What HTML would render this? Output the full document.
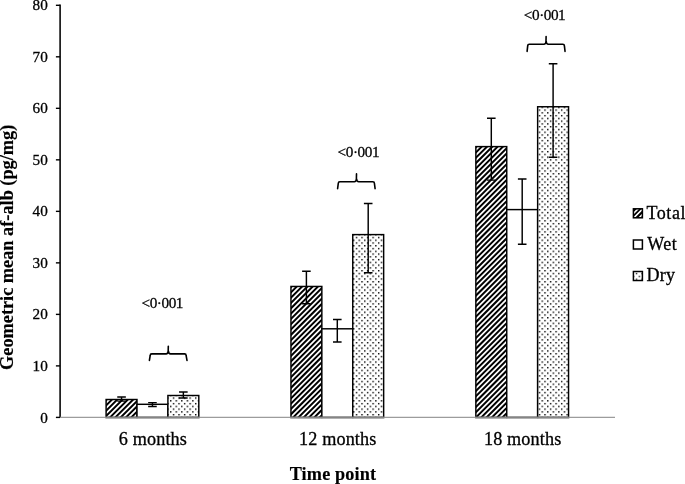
<!DOCTYPE html>
<html><head><meta charset="utf-8"><style>
html,body{margin:0;padding:0;background:#fff;}
body{width:685px;height:484px;overflow:hidden;position:relative;}
svg{position:absolute;left:0;top:0;display:block;will-change:transform;}
text{font-family:"Liberation Serif",serif;fill:#000;stroke:#000;stroke-width:0.3px;}
.b{stroke-width:0.15px;}
.b{font-weight:bold;}
</style></head><body>
<svg width="685" height="484" viewBox="0 0 685 484">
<defs>
<pattern id="dots" patternUnits="userSpaceOnUse" width="5.545" height="5.538" x="544.3" y="109.4">
<rect x="0" y="0" width="1.4" height="1.4" fill="#000"/>
<rect x="2.7725" y="2.769" width="1.4" height="1.4" fill="#000"/>
</pattern>

<clipPath id="hc0"><rect x="106.10" y="399.50" width="30.90" height="17.90"/></clipPath>
<clipPath id="hc1"><rect x="290.95" y="286.45" width="30.90" height="130.95"/></clipPath>
<clipPath id="hc2"><rect x="475.85" y="146.60" width="30.90" height="270.80"/></clipPath>
</defs>
<line x1="60.1" y1="4.60" x2="60.1" y2="418.10" stroke="#000" stroke-width="1.55"/>
<line x1="55.9" y1="417.40" x2="60.1" y2="417.40" stroke="#000" stroke-width="1.4"/>
<text x="47.8" y="422.50" font-size="15.2" text-anchor="end" >0</text>
<line x1="55.9" y1="365.89" x2="60.1" y2="365.89" stroke="#000" stroke-width="1.4"/>
<text x="47.8" y="370.99" font-size="15.2" text-anchor="end" >10</text>
<line x1="55.9" y1="314.38" x2="60.1" y2="314.38" stroke="#000" stroke-width="1.4"/>
<text x="47.8" y="319.48" font-size="15.2" text-anchor="end" >20</text>
<line x1="55.9" y1="262.86" x2="60.1" y2="262.86" stroke="#000" stroke-width="1.4"/>
<text x="47.8" y="267.96" font-size="15.2" text-anchor="end" >30</text>
<line x1="55.9" y1="211.35" x2="60.1" y2="211.35" stroke="#000" stroke-width="1.4"/>
<text x="47.8" y="216.45" font-size="15.2" text-anchor="end" >40</text>
<line x1="55.9" y1="159.84" x2="60.1" y2="159.84" stroke="#000" stroke-width="1.4"/>
<text x="47.8" y="164.94" font-size="15.2" text-anchor="end" >50</text>
<line x1="55.9" y1="108.33" x2="60.1" y2="108.33" stroke="#000" stroke-width="1.4"/>
<text x="47.8" y="113.43" font-size="15.2" text-anchor="end" >60</text>
<line x1="55.9" y1="56.81" x2="60.1" y2="56.81" stroke="#000" stroke-width="1.4"/>
<text x="47.8" y="61.91" font-size="15.2" text-anchor="end" >70</text>
<line x1="55.9" y1="5.30" x2="60.1" y2="5.30" stroke="#000" stroke-width="1.4"/>
<text x="47.8" y="10.40" font-size="15.2" text-anchor="end" >80</text>
<rect x="106.10" y="399.50" width="30.90" height="17.90" fill="#fff"/>
<path clip-path="url(#hc0)" d="M104.10,396.85L139.00,361.95M104.10,402.15L139.00,367.25M104.10,407.45L139.00,372.55M104.10,412.75L139.00,377.85M104.10,418.05L139.00,383.15M104.10,423.35L139.00,388.45M104.10,428.65L139.00,393.75M104.10,433.95L139.00,399.05M104.10,439.25L139.00,404.35M104.10,444.55L139.00,409.65M104.10,449.85L139.00,414.95M104.10,455.15L139.00,420.25" stroke="#000" stroke-width="1.95" fill="none"/>
<rect x="106.10" y="399.50" width="30.90" height="17.90" fill="none" stroke="#000" stroke-width="1.45"/>
<rect x="137.00" y="404.30" width="30.90" height="13.10" fill="#fff" stroke="#000" stroke-width="1.45"/>
<rect x="167.90" y="395.50" width="30.90" height="21.90" fill="#fff"/>
<rect x="167.90" y="395.50" width="30.90" height="21.90" fill="url(#dots)" stroke="#000" stroke-width="1.45"/>
<rect x="290.95" y="286.45" width="30.90" height="130.95" fill="#fff"/>
<path clip-path="url(#hc1)" d="M288.95,283.80L323.85,248.90M288.95,289.10L323.85,254.20M288.95,294.40L323.85,259.50M288.95,299.70L323.85,264.80M288.95,305.00L323.85,270.10M288.95,310.30L323.85,275.40M288.95,315.60L323.85,280.70M288.95,320.90L323.85,286.00M288.95,326.20L323.85,291.30M288.95,331.50L323.85,296.60M288.95,336.80L323.85,301.90M288.95,342.10L323.85,307.20M288.95,347.40L323.85,312.50M288.95,352.70L323.85,317.80M288.95,358.00L323.85,323.10M288.95,363.30L323.85,328.40M288.95,368.60L323.85,333.70M288.95,373.90L323.85,339.00M288.95,379.20L323.85,344.30M288.95,384.50L323.85,349.60M288.95,389.80L323.85,354.90M288.95,395.10L323.85,360.20M288.95,400.40L323.85,365.50M288.95,405.70L323.85,370.80M288.95,411.00L323.85,376.10M288.95,416.30L323.85,381.40M288.95,421.60L323.85,386.70M288.95,426.90L323.85,392.00M288.95,432.20L323.85,397.30M288.95,437.50L323.85,402.60M288.95,442.80L323.85,407.90M288.95,448.10L323.85,413.20M288.95,453.40L323.85,418.50" stroke="#000" stroke-width="1.95" fill="none"/>
<rect x="290.95" y="286.45" width="30.90" height="130.95" fill="none" stroke="#000" stroke-width="1.45"/>
<rect x="321.85" y="328.80" width="30.90" height="88.60" fill="#fff" stroke="#000" stroke-width="1.45"/>
<rect x="352.75" y="234.60" width="30.90" height="182.80" fill="#fff"/>
<rect x="352.75" y="234.60" width="30.90" height="182.80" fill="url(#dots)" stroke="#000" stroke-width="1.45"/>
<rect x="475.85" y="146.60" width="30.90" height="270.80" fill="#fff"/>
<path clip-path="url(#hc2)" d="M473.85,143.95L508.75,109.05M473.85,149.25L508.75,114.35M473.85,154.55L508.75,119.65M473.85,159.85L508.75,124.95M473.85,165.15L508.75,130.25M473.85,170.45L508.75,135.55M473.85,175.75L508.75,140.85M473.85,181.05L508.75,146.15M473.85,186.35L508.75,151.45M473.85,191.65L508.75,156.75M473.85,196.95L508.75,162.05M473.85,202.25L508.75,167.35M473.85,207.55L508.75,172.65M473.85,212.85L508.75,177.95M473.85,218.15L508.75,183.25M473.85,223.45L508.75,188.55M473.85,228.75L508.75,193.85M473.85,234.05L508.75,199.15M473.85,239.35L508.75,204.45M473.85,244.65L508.75,209.75M473.85,249.95L508.75,215.05M473.85,255.25L508.75,220.35M473.85,260.55L508.75,225.65M473.85,265.85L508.75,230.95M473.85,271.15L508.75,236.25M473.85,276.45L508.75,241.55M473.85,281.75L508.75,246.85M473.85,287.05L508.75,252.15M473.85,292.35L508.75,257.45M473.85,297.65L508.75,262.75M473.85,302.95L508.75,268.05M473.85,308.25L508.75,273.35M473.85,313.55L508.75,278.65M473.85,318.85L508.75,283.95M473.85,324.15L508.75,289.25M473.85,329.45L508.75,294.55M473.85,334.75L508.75,299.85M473.85,340.05L508.75,305.15M473.85,345.35L508.75,310.45M473.85,350.65L508.75,315.75M473.85,355.95L508.75,321.05M473.85,361.25L508.75,326.35M473.85,366.55L508.75,331.65M473.85,371.85L508.75,336.95M473.85,377.15L508.75,342.25M473.85,382.45L508.75,347.55M473.85,387.75L508.75,352.85M473.85,393.05L508.75,358.15M473.85,398.35L508.75,363.45M473.85,403.65L508.75,368.75M473.85,408.95L508.75,374.05M473.85,414.25L508.75,379.35M473.85,419.55L508.75,384.65M473.85,424.85L508.75,389.95M473.85,430.15L508.75,395.25M473.85,435.45L508.75,400.55M473.85,440.75L508.75,405.85M473.85,446.05L508.75,411.15M473.85,451.35L508.75,416.45" stroke="#000" stroke-width="1.95" fill="none"/>
<rect x="475.85" y="146.60" width="30.90" height="270.80" fill="none" stroke="#000" stroke-width="1.45"/>
<rect x="506.75" y="209.60" width="30.90" height="207.80" fill="#fff" stroke="#000" stroke-width="1.45"/>
<rect x="537.65" y="106.75" width="30.90" height="310.65" fill="#fff"/>
<rect x="537.65" y="106.75" width="30.90" height="310.65" fill="url(#dots)" stroke="#000" stroke-width="1.45"/>
<line x1="60.1" y1="417.45" x2="615" y2="417.45" stroke="#9c9c9c" stroke-width="1.3"/>
<line x1="105.40" y1="417.6" x2="199.50" y2="417.6" stroke="#858585" stroke-width="1.6"/>
<line x1="290.25" y1="417.6" x2="384.35" y2="417.6" stroke="#858585" stroke-width="1.6"/>
<line x1="475.15" y1="417.6" x2="569.25" y2="417.6" stroke="#858585" stroke-width="1.6"/>
<path d="M117.25,397.00 H125.85 M121.55,397.00 V401.10 M117.25,401.10 H125.85" stroke="#000" stroke-width="1.45" fill="none"/>
<path d="M148.15,402.60 H156.75 M152.45,402.60 V406.50 M148.15,406.50 H156.75" stroke="#000" stroke-width="1.45" fill="none"/>
<path d="M179.05,391.90 H187.65 M183.35,391.90 V398.00 M179.05,398.00 H187.65" stroke="#000" stroke-width="1.45" fill="none"/>
<path d="M302.10,271.20 H310.70 M306.40,271.20 V303.70 M302.10,303.70 H310.70" stroke="#000" stroke-width="1.45" fill="none"/>
<path d="M333.00,319.50 H341.60 M337.30,319.50 V341.90 M333.00,341.90 H341.60" stroke="#000" stroke-width="1.45" fill="none"/>
<path d="M363.90,203.40 H372.50 M368.20,203.40 V272.80 M363.90,272.80 H372.50" stroke="#000" stroke-width="1.45" fill="none"/>
<path d="M487.00,118.20 H495.60 M491.30,118.20 V180.10 M487.00,180.10 H495.60" stroke="#000" stroke-width="1.45" fill="none"/>
<path d="M517.90,179.00 H526.50 M522.20,179.00 V244.30 M517.90,244.30 H526.50" stroke="#000" stroke-width="1.45" fill="none"/>
<path d="M548.80,63.70 H557.40 M553.10,63.70 V157.20 M548.80,157.20 H557.40" stroke="#000" stroke-width="1.45" fill="none"/>
<path d="M149.40,360.40 L150.20,355.50 Q150.20,353.90 151.80,353.90 H166.10 Q168.10,353.90 168.20,350.90 L168.30,346.30 M168.40,350.90 Q168.50,353.90 170.50,353.90 H184.50 Q186.10,353.90 186.10,355.50 L187.00,360.40" stroke="#000" stroke-width="1.6" fill="none" stroke-linecap="round"/>
<path d="M337.60,188.70 L338.30,183.30 Q338.30,181.70 339.90,181.70 H354.30 Q356.30,181.70 356.40,178.70 L356.50,173.90 M356.60,178.70 Q356.70,181.70 358.70,181.70 H372.80 Q374.40,181.70 374.40,183.30 L375.10,188.70" stroke="#000" stroke-width="1.6" fill="none" stroke-linecap="round"/>
<path d="M527.10,51.40 L527.70,45.90 Q527.70,44.30 529.30,44.30 H543.90 Q545.90,44.30 546.00,41.30 L546.10,36.50 M546.20,41.30 Q546.30,44.30 548.30,44.30 H562.80 Q564.40,44.30 564.40,45.90 L565.05,51.40" stroke="#000" stroke-width="1.6" fill="none" stroke-linecap="round"/>
<text x="141.50" y="307.85" font-size="15.2" textLength="41.9" lengthAdjust="spacing">&lt;0&#183;001</text>
<text x="337.60" y="156.75" font-size="15.2" textLength="41.9" lengthAdjust="spacing">&lt;0&#183;001</text>
<text x="523.80" y="20.45" font-size="15.2" textLength="41.9" lengthAdjust="spacing">&lt;0&#183;001</text>
<text x="152.85" y="445.0" font-size="18.2" text-anchor="middle" textLength="68.0" lengthAdjust="spacing">6 months</text>
<text x="337.70" y="445.0" font-size="18.2" text-anchor="middle" textLength="77.3" lengthAdjust="spacing">12 months</text>
<text x="522.60" y="445.0" font-size="18.2" text-anchor="middle" textLength="77.3" lengthAdjust="spacing">18 months</text>
<text x="332.9" y="479.8" font-size="18.2" text-anchor="middle" class="b" textLength="86.5" lengthAdjust="spacing">Time point</text>
<text transform="translate(13.4,247.3) rotate(-90)" x="0" y="0" font-size="18.3" text-anchor="middle" class="b">Geometric mean af-alb (pg/mg)</text>
<defs>
<clipPath id="lclip"><rect x="633.4" y="208.8" width="9" height="9"/></clipPath>
<pattern id="ldots" patternUnits="userSpaceOnUse" width="5.7" height="5.7" x="630.1" y="267.2">
<rect width="5.7" height="5.7" fill="#fff"/>
<rect x="0" y="0" width="1.3" height="1.3" fill="#000"/>
<rect x="2.85" y="2.85" width="1.3" height="1.3" fill="#000"/>
</pattern>
</defs>
<rect x="633.4" y="208.8" width="9" height="9" fill="#000"/>
<path clip-path="url(#lclip)" d="M630,216.90L646,200.90M630,221.60L646,205.60M630,226.90L646,210.90" stroke="#fff" stroke-width="1.6" fill="none"/>
<rect x="633.4" y="208.8" width="9" height="9" fill="none" stroke="#000" stroke-width="1.5"/>
<rect x="633.4" y="240.0" width="9" height="9" fill="#fff" stroke="#000" stroke-width="1.5"/>
<rect x="633.4" y="271.5" width="9" height="9" fill="url(#ldots)" stroke="#000" stroke-width="1.5"/>
<text x="646.6" y="219.1" font-size="18" textLength="38.8" lengthAdjust="spacing">Total</text>
<text x="647.2" y="250.3" font-size="18" textLength="29.6" lengthAdjust="spacing">Wet</text>
<text x="646.4" y="281.3" font-size="18" textLength="28.6" lengthAdjust="spacing">Dry</text>
</svg></body></html>
